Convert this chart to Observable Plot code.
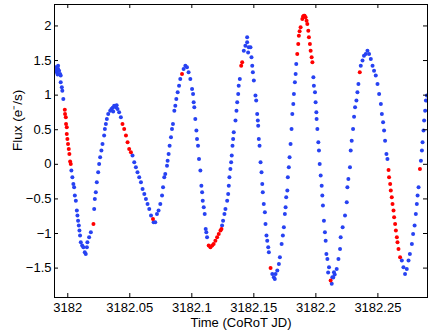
<!DOCTYPE html>
<html><head><meta charset="utf-8">
<script src="https://cdn.jsdelivr.net/npm/d3@7"></script>
<script src="https://cdn.jsdelivr.net/npm/@observablehq/plot@0.6"></script>
<style>html,body{margin:0;padding:0;background:#fff;}</style>
</head><body><div id="chart"></div>
<script>
const blueTime = [
3181.9897,3181.9903,3181.9905,3181.9911,3181.9918,3181.9922,3181.9922,3181.9930,3181.9938,3181.9943,3181.9943,3181.9952,3181.9956,3181.9964,
3182.0029,3182.0037,3182.0045,3182.0051,3182.0057,3182.0065,3182.0073,3182.0078,3182.0083,3182.0089,3182.0094,3182.0099,3182.0105,3182.0116,3182.0126,3182.0137,3182.0145,3182.0154,3182.0158,3182.0172,3182.0186,
3182.0213,3182.0218,3182.0226,3182.0234,3182.0245,3182.0253,3182.0261,3182.0271,3182.0280,3182.0293,3182.0299,3182.0307,3182.0315,3182.0326,3182.0342,3182.0352,3182.0362,3182.0366,3182.0374,3182.0388,3182.0394,3182.0401,3182.0414,3182.0428,
3182.0522,3182.0536,3182.0549,3182.0562,3182.0576,3182.0590,3182.0603,3182.0617,3182.0630,3182.0643,3182.0657,3182.0671,
3182.0692,3182.0705,3182.0719,3182.0732,3182.0746,3182.0760,3182.0768,3182.0778,3182.0786,3182.0800,3182.0805,3182.0813,3182.0821,3182.0832,3182.0840,3182.0848,3182.0859,3182.0867,3182.0875,3182.0886,3182.0897,3182.0907,
3182.0934,3182.0948,3182.0961,3182.0974,3182.0988,3182.1002,3182.1010,3182.1015,3182.1020,3182.1028,3182.1037,3182.1042,3182.1050,3182.1058,3182.1069,3182.1077,3182.1083,3182.1088,3182.1096,3182.1104,3182.1112,3182.1117,3182.1123,
3182.1244,3182.1252,3182.1263,3182.1271,3182.1285,3182.1293,3182.1298,3182.1303,3182.1311,3182.1317,3182.1322,3182.1328,3182.1333,3182.1338,3182.1352,3182.1360,3182.1366,3182.1374,3182.1378,3182.1387,
3182.1419,3182.1432,3182.1446,3182.1446,3182.1454,3182.1459,3182.1473,3182.1481,3182.1487,3182.1492,3182.1500,3182.1513,3182.1519,3182.1527,3182.1532,3182.1535,3182.1540,3182.1546,3182.1554,3182.1562,3182.1568,3182.1572,3182.1580,3182.1589,3182.1594,3182.1602,3182.1608,3182.1616,3182.1621,
3182.1649,3182.1661,3182.1669,3182.1675,3182.1689,3182.1702,3182.1710,3182.1724,3182.1734,3182.1742,3182.1750,3182.1756,3182.1761,3182.1770,3182.1774,3182.1782,3182.1788,3182.1796,3182.1804,3182.1810,3182.1818,3182.1823,3182.1831,3182.1837,3182.1842,
3182.1980,3182.1984,3182.1993,3182.1998,3182.2004,3182.2006,3182.2012,3182.2020,3182.2025,3182.2031,3182.2039,3182.2047,3182.2052,3182.2057,3182.2065,3182.2073,3182.2079,3182.2085,3182.2093,3182.2099,3182.2106,
3182.2128,3182.2133,3182.2140,3182.2146,3182.2152,3182.2168,3182.2182,3182.2195,3182.2200,3182.2216,3182.2235,3182.2249,3182.2254,3182.2262,3182.2275,3182.2281,3182.2289,3182.2300,3182.2308,3182.2316,3182.2327,3182.2335,3182.2343,
3182.2362,3182.2376,3182.2388,3182.2402,3182.2416,3182.2429,3182.2443,3182.2457,3182.2469,3182.2483,3182.2497,3182.2510,3182.2524,3182.2532,3182.2542,3182.2550,3182.2558,3182.2569,3182.2577,
3182.2693,3182.2706,3182.2719,3182.2733,3182.2747,3182.2758,3182.2774,3182.2784,3182.2796,3182.2806,3182.2814,3182.2820,3182.2828,
3182.2847,3182.2855,3182.2860,3182.2868,3182.2873,3182.2881,3182.2887,3182.2895
];
const blueFlux = [
1.383,1.402,1.35,1.329,1.30,1.426,1.379,1.354,1.306,1.282,1.185,1.113,1.065,0.945,
-0.091,-0.188,-0.283,-0.332,-0.452,-0.525,-0.669,-0.741,-0.814,-0.886,-0.958,-1.030,-1.127,-1.175,-1.199,-1.272,-1.295,-1.199,-1.127,-1.055,-0.983,
-0.645,-0.500,-0.405,-0.260,-0.116,0.006,0.101,0.198,0.295,0.415,0.512,0.584,0.656,0.728,0.776,0.801,0.819,0.762,0.848,0.824,0.855,0.801,0.751,0.679,
0.126,0.029,-0.043,-0.116,-0.188,-0.260,-0.355,-0.428,-0.500,-0.572,-0.645,-0.741,
-0.838,-0.838,-0.717,-0.669,-0.572,-0.452,-0.332,-0.188,-0.139,-0.019,0.053,0.150,0.270,0.390,0.512,0.584,0.776,0.848,0.945,1.040,1.137,1.234,
1.379,1.426,1.402,1.329,1.234,1.090,1.017,0.896,0.824,0.656,0.487,0.367,0.270,0.078,-0.091,-0.308,-0.405,-0.525,-0.621,-0.717,-0.934,-0.983,-1.055,
-0.886,-0.814,-0.717,-0.645,-0.525,-0.428,-0.308,-0.188,-0.066,0.029,0.126,0.270,0.367,0.462,0.632,0.776,0.896,1.017,1.137,1.234,
1.643,1.715,1.835,1.763,1.618,1.691,1.691,1.546,1.426,1.329,1.210,0.993,0.921,0.728,0.632,0.559,0.367,0.270,0.029,-0.116,-0.283,-0.405,-0.572,-0.694,-0.861,-1.030,-1.103,-1.199,-1.272,
-1.584,-1.633,-1.656,-1.584,-1.536,-1.439,-1.344,-1.150,-1.030,-0.910,-0.717,-0.621,-0.477,-0.380,-0.188,-0.043,0.101,0.295,0.512,0.728,0.873,1.017,1.185,1.306,1.451,
1.257,1.137,1.040,0.896,0.751,0.656,0.512,0.318,0.198,0.006,-0.163,-0.308,-0.452,-0.597,-0.814,-0.983,-1.103,-1.295,-1.367,-1.565,-1.488,
-1.725,-1.633,-1.637,-1.561,-1.594,-1.512,-1.367,-1.223,-1.055,-0.910,-0.741,-0.549,-0.332,-0.211,-0.043,0.198,0.342,0.512,0.689,0.824,0.921,1.040,1.162,
1.426,1.499,1.571,1.595,1.643,1.595,1.523,1.426,1.354,1.282,1.162,1.017,0.873,0.728,0.607,0.487,0.342,0.150,0.078,
-1.392,-1.488,-1.584,-1.512,-1.392,-1.295,-1.150,-1.006,-0.886,-0.717,-0.572,-0.452,-0.332,
0.053,0.198,0.318,0.487,0.632,0.776,0.921,0.993
];
const redTime = [
3181.9976,3181.9978,3181.9984,3181.9986,3181.9992,3181.9992,3181.9997,3182.0002,3182.0008,3182.0013,3182.0019,3182.0024,
3182.0207,
3182.0441,3182.0455,3182.0469,3182.0482,3182.0495,3182.0509,
3182.0687,3182.0921,
3182.1136,3182.1150,3182.1164,3182.1176,3182.1190,3182.1204,3182.1217,3182.1231,3182.1239,
3182.1398,3182.1406,3182.1635,
3182.1850,3182.1858,3182.1863,3182.1869,3182.1877,3182.1891,3182.1897,3182.1904,3182.1909,3182.1917,3182.1925,3182.1931,3182.1939,3182.1944,3182.1952,3182.1958,3182.1966,3182.1972,
3182.2119,3182.2354,
3182.2586,3182.2590,3182.2599,3182.2604,3182.2612,3182.2618,3182.2626,3182.2631,3182.2639,3182.2645,3182.2653,3182.2658,3182.2666,3182.2679,
3182.2839
];
const redFlux = [
0.79,0.728,0.679,0.584,0.535,0.439,0.367,0.295,0.223,0.150,0.039,0.006,
-0.861,
0.584,0.512,0.415,0.318,0.223,0.173,
-0.789,1.306,
-1.175,-1.199,-1.175,-1.150,-1.103,-1.055,-1.006,-0.958,-0.934,
1.426,1.474,-1.497,
1.595,1.740,1.860,1.925,1.980,2.101,2.135,2.149,2.149,2.124,2.076,2.029,1.932,1.835,1.740,1.643,1.546,1.474,
-1.681,1.329,
-0.081,-0.188,-0.283,-0.380,-0.477,-0.572,-0.669,-0.766,-0.861,-0.958,-1.055,-1.127,-1.223,-1.344,
-0.066
];
const xTicks = [3182, 3182.05, 3182.1, 3182.15, 3182.2, 3182.25];
const yTicks = [-1.5, -1, -0.5, 0, 0.5, 1, 1.5, 2];
const xDomain = [3181.9893, 3182.2900];
const yDomain = [-1.925, 2.31];
const xLabel = "Time (CoRoT JD)";
const yLabel = "Flux (e\u207B/s)";

const W = 436, H = 331, mL = 54, mR = 9, mT = 4, mB = 34;
const pw = W - mL - mR, ph = H - mT - mB, tl = 4;
const blue = blueTime.map((t, i) => ({t, f: blueFlux[i]}));
const red = redTime.map((t, i) => ({t, f: redFlux[i]}));
const fmtX = d3.format("~f");
const fmtY = d3.format("~g");

const chart = Plot.plot({
  width: W, height: H,
  marginLeft: mL, marginRight: mR, marginTop: mT, marginBottom: mB,
  style: {fontFamily: "'Liberation Sans', Arial, Helvetica, sans-serif", fontSize: "13px", background: "#fff", color: "#000"},
  x: {domain: xDomain},
  y: {domain: yDomain},
  marks: [
    Plot.dot(blue, {x: "t", y: "f", r: 2, fill: "#2742f2", stroke: "none", clip: true}),
    Plot.dot(red, {x: "t", y: "f", r: 2, fill: "#ff0000", stroke: "none", clip: true}),
    Plot.tickX(xTicks, {x: d => d, insetTop: ph - tl, stroke: "#000"}),
    Plot.tickX(xTicks, {x: d => d, insetBottom: ph - tl, stroke: "#000"}),
    Plot.tickY(yTicks, {y: d => d, insetRight: pw - tl, stroke: "#000"}),
    Plot.tickY(yTicks, {y: d => d, insetLeft: pw - tl, stroke: "#000"}),
    Plot.frame({stroke: "#000"}),
    Plot.axisX(xTicks, {tickSize: 0, tickPadding: 5, tickFormat: fmtX, label: null, fontSize: 13}),
    Plot.axisY(yTicks, {tickSize: 0, tickPadding: 3, tickFormat: fmtY, label: null, fontSize: 13}),
    Plot.text([xLabel], {text: d => d, frameAnchor: "bottom", lineAnchor: "top", dy: 20, fontSize: 13}),
    Plot.text([yLabel], {text: d => d, frameAnchor: "left", rotate: -90, dx: -37, fontSize: 13.5})
  ]
});
document.getElementById("chart").appendChild(chart);
</script>
</body></html>
